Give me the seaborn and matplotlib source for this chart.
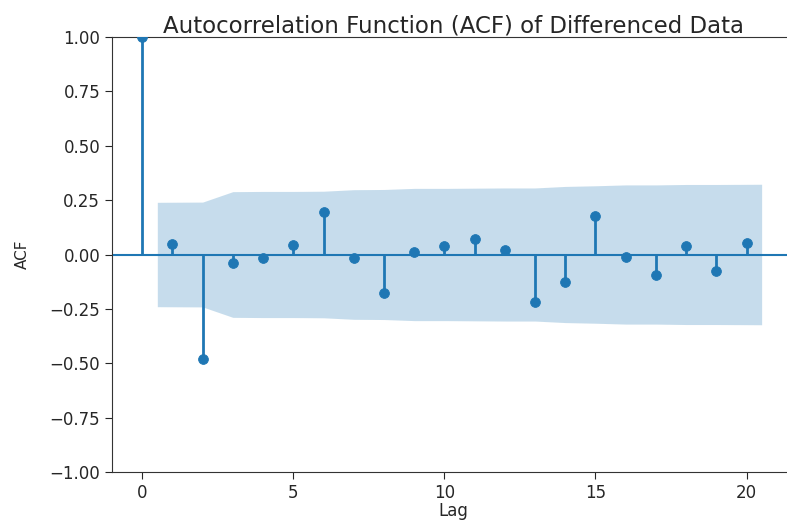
import matplotlib
matplotlib.use("Agg")
import matplotlib.pyplot as plt
import seaborn as sns
import numpy as np
import pandas as pd

lags = list(range(0, 21))
acf_values = [1.00, 0.05, -0.48, -0.04, -0.015, 0.045, 0.195, -0.015, -0.175, 0.01,
              0.04, 0.07, 0.02, -0.22, -0.125, 0.175, -0.01, -0.095, 0.04, -0.075, 0.055]
# confidence band half-widths for lags 1..20
band_lags = [0.5, 2, 3, 4, 5, 6, 7, 8, 9, 10, 11, 12, 13, 14, 15, 16, 17, 18, 19, 20.5]
band_half = [0.240, 0.241, 0.289, 0.290, 0.290, 0.291, 0.298, 0.299, 0.304, 0.304,
             0.305, 0.306, 0.306, 0.313, 0.316, 0.320, 0.320, 0.322, 0.322, 0.323]

sns.set_style("ticks")
plt.rcParams['font.family'] = ['DejaVu Sans']

fig = plt.figure(figsize=(7.87, 5.22), dpi=100)
ax = fig.add_axes([0.1423, 0.0958, 0.8577 + 0.01, 0.8333])

c0 = "#1f77b4"
bh = np.array(band_half)
ax.fill_between(band_lags, -bh, bh, color=c0, alpha=0.25, linewidth=0)
ax.axhline(0, color=c0, linewidth=1.5)
ax.vlines(lags, 0, acf_values, color=c0, linewidth=2)
df = pd.DataFrame({"Lag": lags, "ACF": acf_values})
sns.scatterplot(data=df, x="Lag", y="ACF", ax=ax, color=c0, s=50, edgecolor=c0, zorder=3)

ax.set_xlim(-1, 21.6)
ax.set_ylim(-1, 1)
ax.set_xticks([0, 5, 10, 15, 20])
ax.set_yticks(np.arange(-1, 1.01, 0.25))
ax.set_yticklabels([f"{v:.2f}".replace("-", "\u2212") for v in np.arange(-1, 1.01, 0.25)])
ax.tick_params(labelsize=12, length=5)
ax.set_xlabel("Lag", fontsize=12, labelpad=0)
ax.set_ylabel("ACF", fontsize=11, labelpad=14)
ax.set_title("Autocorrelation Function (ACF) of Differenced Data", fontsize=16.5, pad=3)
ax.spines['right'].set_visible(False)
for s in ['left', 'bottom', 'top']:
    ax.spines[s].set_color('#333333')

fig.savefig("out.png", dpi=100)
